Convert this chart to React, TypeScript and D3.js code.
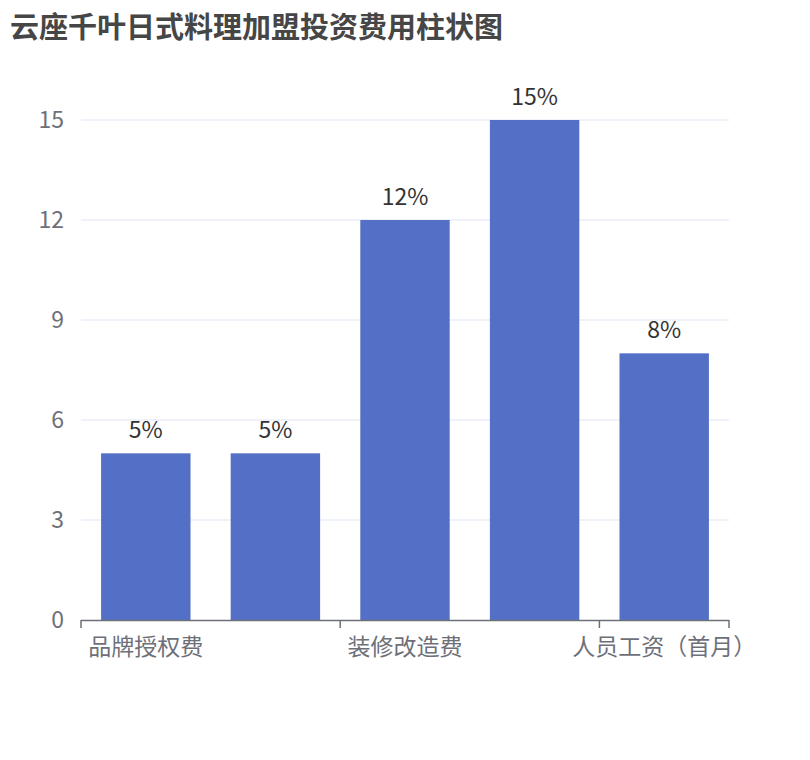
import React from "react";
import * as d3 from "d3";

const title = "云座千叶日式料理加盟投资费用柱状图";
const categories = ["品牌授权费", "加盟保证金", "装修改造费", "设备采购费", "人员工资（首月）"];
const values = [5, 5, 12, 15, 8];
const valueLabels = ["5%", "5%", "12%", "15%", "8%"];
const yTicks = [0, 3, 6, 9, 12, 15];

const width = 810;
const height = 760;
const margin = { top: 120, right: 81, bottom: 140, left: 81 };
const font = "'Noto Sans CJK SC', 'Noto Sans', sans-serif";

const App = () => {
  const x = d3
    .scaleBand<string>()
    .domain(categories)
    .range([margin.left, width - margin.right])
    .paddingInner(0.31)
    .paddingOuter(0.155);
  const xb = d3
    .scaleBand<string>()
    .domain(categories)
    .range([margin.left, width - margin.right]);
  const y = d3.scaleLinear([0, 15], [height - margin.bottom, margin.top]);
  const axisColor = "#6E7079";
  const y0 = y(0);
  // show every other label, like the original
  const shown = categories.map((_, i) => i % 2 === 0);
  const tickXs = categories
    .map((c, i) => (i % 2 === 0 ? xb(c)! : null))
    .filter((v) => v !== null) as number[];
  tickXs.push(width - margin.right);

  return (
    <svg
      width={width}
      height={height}
      style={{ display: "block", margin: -8, fontFamily: font }}
    >
      <rect width={width} height={height} fill="#fff" />
      <text x={10} y={38} fontSize={29} fontWeight="bold" fill="#464646">
        {title}
      </text>
      <g>
        {yTicks.map((t) => (
          <g key={t}>
            {t !== 0 && (
              <line
                x1={margin.left}
                x2={width - margin.right}
                y1={y(t)}
                y2={y(t)}
                stroke="#E0E6F1"
                strokeWidth={1.2}
              />
            )}
            <text
              x={margin.left - 17}
              y={y(t)}
              dy="0.35em"
              textAnchor="end"
              fontSize={23}
              fill={axisColor}
            >
              {t}
            </text>
          </g>
        ))}
      </g>
      <g>
        {categories.map((c, i) => (
          <rect
            key={c}
            x={x(c)}
            y={y(values[i])}
            width={x.bandwidth()}
            height={y0 - y(values[i])}
            fill="#5470C6"
          />
        ))}
        {categories.map((c, i) => (
          <text
            key={c}
            x={x(c)! + x.bandwidth() / 2}
            y={y(values[i]) - 15}
            textAnchor="middle"
            fontSize={23}
            fill="#333"
          >
            {valueLabels[i]}
          </text>
        ))}
      </g>
      <g>
        <line
          x1={margin.left}
          x2={width - margin.right}
          y1={y0 + 0.5}
          y2={y0 + 0.5}
          stroke={axisColor}
          strokeWidth={1.5}
        />
        {tickXs.map((tx) => (
          <line
            key={tx}
            x1={tx}
            x2={tx}
            y1={y0}
            y2={y0 + 8}
            stroke={axisColor}
            strokeWidth={1.5}
          />
        ))}
        {categories.map((c, i) =>
          shown[i] ? (
            <text
              key={c}
              x={xb(c)! + xb.bandwidth() / 2}
              y={y0 + 35}
              textAnchor="middle"
              fontSize={23}
              fill={axisColor}
            >
              {c}
            </text>
          ) : null
        )}
      </g>
    </svg>
  );
};

export default App;
